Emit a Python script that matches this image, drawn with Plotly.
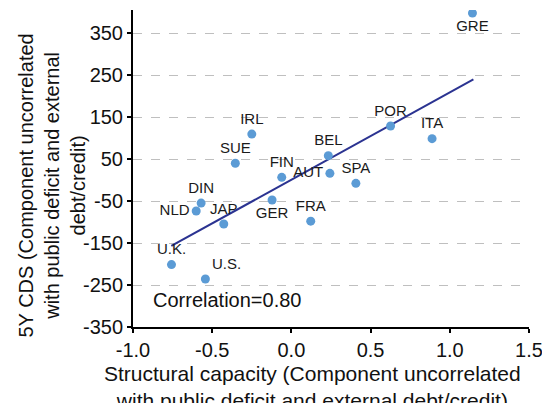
import plotly.graph_objects as go

countries = ["GRE", "ITA", "POR", "BEL", "AUT", "SPA", "FIN", "FRA", "GER",
             "IRL", "SUE", "DIN", "NLD", "JAP", "U.K.", "U.S."]
x_vals = [1.143, 0.888, 0.626, 0.233, 0.243, 0.407, -0.061, 0.122, -0.122,
          -0.250, -0.354, -0.570, -0.601, -0.427, -0.757, -0.543]
y_vals = [397.6, 98.6, 128.6, 58.0, 16.0, -7.9, 6.4, -98.0, -47.6,
          109.5, 40.0, -54.8, -73.8, -104.8, -201.4, -235.7]
label_pos = ["bottom center", "top center", "top center", "top center", "middle left",
             "top center", "top center", "top center", "bottom center",
             "top center", "top center", "top center", "middle left", "top center",
             "top center", "top right"]

trend_x = [-0.758, 1.149]
trend_y = [-157.0, 240.0]

x_ticks = [-1.0, -0.5, 0.0, 0.5, 1.0, 1.5]
x_ticktext = ["-1.0", "-0.5", "0.0", "0.5", "1.0", "1.5"]
y_ticks = [-350, -250, -150, -50, 50, 150, 250, 350]
y_ticktext = ["-350", "-250", "-150", "-50", "50", "150", "250", "350"]

x_title = "Structural capacity (Component uncorrelated<br>with public deficit and external debt/credit)"
y_title = "5Y CDS (Component uncorrelated<br>with public deficit and external<br>debt/credit)"

font_family = "Liberation Sans, Arial, sans-serif"
txt = "#111111"

fig = go.Figure()
fig.add_trace(go.Scatter(
    x=trend_x, y=trend_y, mode="lines",
    line=dict(color="#2B3391", width=2), showlegend=False, hoverinfo="skip"))
fig.add_trace(go.Scatter(
    x=x_vals, y=y_vals, mode="markers+text", text=countries,
    textposition=label_pos,
    textfont=dict(family=font_family, size=15, color="#1a1a1a"),
    marker=dict(color="#5B9BD5", size=9), showlegend=False))

fig.add_annotation(x=-0.885, y=-286, xref="x", yref="y", text="Correlation=0.80",
                   showarrow=False, xanchor="left", yanchor="middle",
                   font=dict(family=font_family, size=20, color=txt))

fig.add_annotation(x=0, y=0.5, xref="paper", yref="paper", text=y_title,
                   textangle=-90, showarrow=False, xanchor="center", yanchor="middle",
                   xshift=-82, yshift=-17,
                   font=dict(family=font_family, size=20, color=txt))
fig.add_annotation(x=0.5, y=0, xref="paper", yref="paper", text=x_title,
                   showarrow=False, xanchor="center", yanchor="middle",
                   xshift=-19, yshift=-60,
                   font=dict(family=font_family, size=21, color=txt))

fig.update_xaxes(
    range=[-1.0, 1.5], tickvals=x_ticks, ticktext=x_ticktext, automargin=False,
    showgrid=False, zeroline=False, showline=True, linecolor="black", linewidth=2,
    ticks="outside", ticklen=4, tickwidth=1.5, tickcolor="black",
    tickfont=dict(family=font_family, size=20, color=txt))
fig.update_yaxes(
    range=[-350, 405], tickvals=y_ticks, ticktext=y_ticktext, automargin=False,
    showgrid=True, gridcolor="#BFBFBF", griddash="dash", gridwidth=1,
    zeroline=False, showline=True, linecolor="black", linewidth=2,
    ticks="outside", ticklen=4, tickwidth=1.5, tickcolor="black",
    tickfont=dict(family=font_family, size=20, color=txt))

fig.update_layout(
    width=550, height=403,
    margin=dict(l=125, r=29, t=2, b=84),
    plot_bgcolor="white", paper_bgcolor="white",
    font=dict(family=font_family),
)

fig.write_html("out.html")
